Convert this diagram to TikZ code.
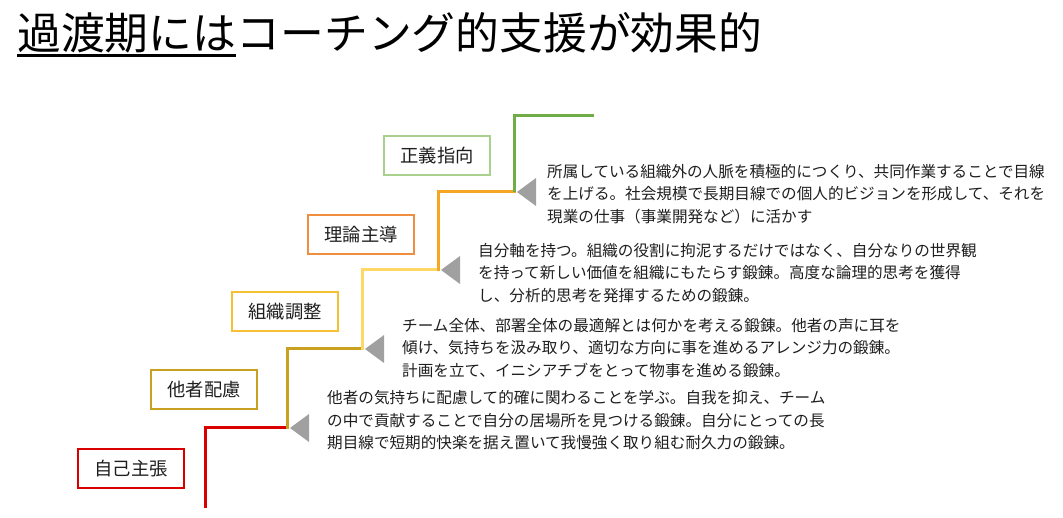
\documentclass[tikz,border=0pt]{standalone}
\usepackage{fontspec}
\newfontfamily\jp{Noto Sans CJK JP}
\definecolor{cred}{RGB}{218,0,0}
\definecolor{cgold}{RGB}{201,160,32}
\definecolor{cyelline}{RGB}{255,215,100}
\definecolor{cyelbox}{RGB}{245,192,50}
\definecolor{corline}{RGB}{245,166,35}
\definecolor{corbox}{RGB}{238,142,62}
\definecolor{cgrline}{RGB}{112,173,71}
\definecolor{cgrbox}{RGB}{169,209,142}
\definecolor{ctri}{RGB}{160,160,160}
\definecolor{ctext}{RGB}{30,30,30}
\tikzset{
  lab/.style={draw, line width=2pt, minimum width=106pt, minimum height=39pt, inner sep=0pt,
    font=\jp\fontsize{18.3}{21}\selectfont, text=ctext},
  desc/.style={anchor=north west, inner sep=0pt, align=left,
    font=\jp\fontsize{15.6}{22.4}\selectfont, text=ctext},
  stairline/.style={line width=3pt, line cap=rect},
  tri/.style={fill=ctri, draw=none}
}
\begin{document}
\begin{tikzpicture}[x=1pt,y=-1pt]
\useasboundingbox (0,0) rectangle (1063,518);
% title
\node[anchor=base west, inner sep=0pt, font=\jp\fontsize{43.8}{50}\selectfont, text=black] (t1) at (17,50) {過渡期には};
\node[anchor=base west, inner sep=0pt, font=\jp\fontsize{43.8}{50}\selectfont, text=black] (t2) at (t1.base east) {コーチング的支援が効果的};
\draw[line width=3pt] ([yshift=-1.5pt]t1.south west) -- ([yshift=-1.5pt]t1.south east);
% stair corners
\coordinate (c0) at (205,508);
\coordinate (c1) at (287,428);
\coordinate (c2) at (362,349);
\coordinate (c3) at (438,270);
\coordinate (c4) at (514,192);
\coordinate (c5) at (594,116);
\draw[stairline, cred, line cap=butt] (c0) |- (c1);
\draw[stairline, cgold] (c1) |- (c2);
\draw[stairline, cyelline] (c2) |- (c3);
\draw[stairline, corline] (c3) |- (c4);
\draw[stairline, cgrline, line cap=butt] (c4) |- (c5);
% triangles
\foreach \c in {c1,c2,c3,c4}{
  \fill[tri] ([xshift=3pt]\c) -- ([xshift=22pt,yshift=14pt]\c) -- ([xshift=22pt,yshift=-14pt]\c) -- cycle;
}
% labels
\node[lab, draw=cred] (l1) at (131,468.5) {自己主張};
\node[lab, draw=cgold] (l2) at (204,389.5) {他者配慮};
\node[lab, draw=cyelbox] (l3) at (285,311.5) {組織調整};
\node[lab, draw=corbox] (l4) at (361,234.5) {理論主導};
\node[lab, draw=cgrbox] (l5) at (437,155.5) {正義指向};
% descriptions
\node[desc] (d1) at (327,390.5) {他者の気持ちに配慮して的確に関わることを学ぶ。自我を抑え、チーム\\の中で貢献することで自分の居場所を見つける鍛錬。自分にとっての長\\期目線で短期的快楽を据え置いて我慢強く取り組む耐久力の鍛錬。};
\node[desc] (d2) at (402,318) {チーム全体、部署全体の最適解とは何かを考える鍛錬。他者の声に耳を\\傾け、気持ちを汲み取り、適切な方向に事を進めるアレンジ力の鍛錬。\\計画を立て、イニシアチブをとって物事を進める鍛錬。};
\node[desc] (d3) at (478,243) {自分軸を持つ。組織の役割に拘泥するだけではなく、自分なりの世界観\\を持って新しい価値を組織にもたらす鍛錬。高度な論理的思考を獲得\\し、分析的思考を発揮するための鍛錬。};
\node[desc] (d4) at (547,164) {所属している組織外の人脈を積極的につくり、共同作業することで目線\\を上げる。社会規模で長期目線での個人的ビジョンを形成して、それを\\現業の仕事（事業開発など）に活かす};
\end{tikzpicture}
\end{document}
